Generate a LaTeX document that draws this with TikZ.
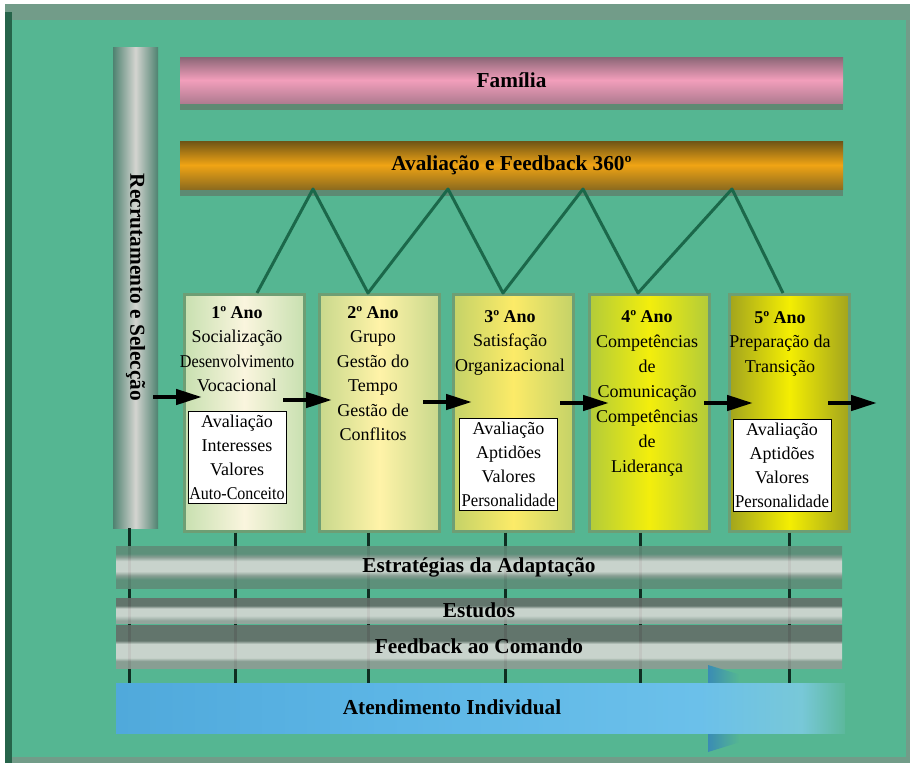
\documentclass[tikz,border=0pt]{standalone}
\usepackage{fontspec}
\setmainfont{Liberation Serif}
\usetikzlibrary{arrows.meta,shadows}

\definecolor{bggreen}{HTML}{55B692}
\definecolor{bgframe}{HTML}{729C89}
\definecolor{edgegreen}{HTML}{26644A}
\definecolor{linkgreen}{HTML}{1B684A}
\definecolor{tickdark}{HTML}{0F2E22}
\definecolor{shadowgray}{HTML}{5F7F6C}
\definecolor{boxrim}{HTML}{6E9E74}
\definecolor{famtop}{HTML}{8B6676}
\definecolor{fammid}{HTML}{F29EBB}
\definecolor{fambot}{HTML}{B07C91}
\definecolor{fbtop}{HTML}{6E5416}
\definecolor{fbmid}{HTML}{F0A414}
\definecolor{fbbot}{HTML}{8E6C1E}
\definecolor{recedge}{HTML}{4E8270}
\definecolor{recmid}{HTML}{D4D4D0}
\definecolor{stripdark}{HTML}{5E8C78}
\definecolor{stripgray}{HTML}{646E68}
\definecolor{stripmid}{HTML}{8E9C94}
\definecolor{striplight}{HTML}{D5D7D3}
\definecolor{stripbot}{HTML}{9AA49E}
\definecolor{yearAedge}{HTML}{C8E0B0}
\definecolor{yearAmid}{HTML}{FAF5DE}
\definecolor{yearBedge}{HTML}{C8D88C}
\definecolor{yearBmid}{HTML}{FFF3A8}
\definecolor{yearCedge}{HTML}{C4D268}
\definecolor{yearCmid}{HTML}{FCEB68}
\definecolor{yearDedge}{HTML}{B2CB3A}
\definecolor{yearDmid}{HTML}{F3EE0C}
\definecolor{yearEedge}{HTML}{A2A41E}
\definecolor{yearEmid}{HTML}{F4EE02}
\definecolor{atA}{HTML}{50A9DB}
\definecolor{atB}{HTML}{5DB6E6}
\definecolor{atC}{HTML}{6BC0EA}
\definecolor{atD}{HTML}{78C8D8}
\definecolor{atE}{HTML}{5CB89C}
\definecolor{atHead}{HTML}{3A8CB4}

\pgfdeclarehorizontalshading{atendbody}{100bp}{color(0bp)=(atA); color(25bp)=(atA); color(45bp)=(atB); color(65bp)=(atC); color(72bp)=(atD); color(75bp)=(atE); color(100bp)=(atE)}
\pgfdeclarehorizontalshading{atendhead}{100bp}{color(0bp)=(atHead); color(25bp)=(atHead); color(36bp)=(bggreen); color(100bp)=(bggreen)}
\pgfdeclareverticalshading{adaptshade}{100bp}{color(0bp)=(stripdark); color(35bp)=(stripdark); color(40bp)=(stripmid); color(45bp)=(striplight); color(57bp)=(striplight); color(62bp)=(stripmid); color(66bp)=(stripdark); color(100bp)=(stripdark)}
\pgfdeclareverticalshading{studyshade}{100bp}{color(0bp)=(stripbot); color(30bp)=(stripbot); color(40bp)=(striplight); color(54bp)=(striplight); color(60bp)=(stripgray); color(100bp)=(stripgray)}
\pgfdeclareverticalshading{cmdshade}{100bp}{color(0bp)=(stripmid); color(33bp)=(stripmid); color(37bp)=(striplight); color(53bp)=(striplight); color(57bp)=(stripgray); color(100bp)=(stripgray)}

\begin{document}
\begin{tikzpicture}[x=1pt,y=-1pt,
    title/.style={font=\bfseries\fontsize{21.3}{25}\selectfont, inner sep=0pt},
    band/.style={title, minimum width=663pt, minimum height=46pt,
      drop shadow={shadow xshift=0pt, shadow yshift=-7pt, fill=shadowgray, opacity=0.8}},
    strip/.style={title, minimum width=726pt, fill opacity=0.9, text opacity=1},
    year/.style 2 args={anchor=north west, minimum width=120pt, minimum height=237pt,
      inner sep=0pt, draw=boxrim, line width=2.5pt,
      left color=#1, right color=#1, middle color=#2},
    boxtext/.style={anchor=north, align=center, inner sep=0pt,
      font=\fontsize{18}{24.5}\selectfont},
    note/.style={draw=black, fill=white, line width=0.8pt, minimum width=98pt,
      minimum height=92pt, inner sep=1pt, align=center,
      font=\fontsize{18}{24}\selectfont},
    flow/.style={line width=4.5pt, -{Triangle[length=26pt,width=15pt]}},
    zig/.style={draw=linkgreen, line width=3pt, line join=round},
    tick/.style={draw=tickdark, line width=3pt}]

  % frame
  \fill[white] (0,0) rectangle (910,766);
  \fill[bgframe] (5,4) rectangle (910,763);
  \fill[bggreen] (12,20) rectangle (906,757);
  \fill[edgegreen] (5,12) rectangle (12,763);

  % top bands and side bar
  \node[band, top color=famtop, bottom color=fambot, middle color=fammid] (fam) at (511.5,80) {Família};
  \node[band, minimum height=48pt, top color=fbtop, bottom color=fbbot, middle color=fbmid] (fb) at (511.5,165) {Avaliação e Feedback 360º};
  \node[minimum width=45pt, minimum height=481pt, inner sep=0pt,
        left color=recedge, right color=recedge, middle color=recmid] (rec) at (135.5,287.5) {};
  \node[title, rotate=-90] (rectxt) at (rec.center) {Recrutamento e Selecção};

  % years
  \node[year={yearAedge}{yearAmid}] (y1) at (183,293) {};
  \node[year={yearBedge}{yearBmid}] (y2) at (318,293) {};
  \node[year={yearCedge}{yearCmid}] (y3) at (452,293) {};
  \node[year={yearDedge}{yearDmid}] (y4) at (588,293) {};
  \node[year={yearEedge}{yearEmid}] (y5) at (728,293) {};

  \node[boxtext] (y1txt) at (237,306) {\textbf{1º Ano}\\Socialização\\\scalebox{0.9}[1]{Desenvolvimento}\\Vocacional};
  \node[boxtext] (y2txt) at (373,306) {\textbf{2º Ano}\\Grupo\\Gestão do\\Tempo\\Gestão de\\Conflitos};
  \node[boxtext] (y3txt) at (510,310) {\textbf{3º Ano}\\Satisfação\\Organizacional};
  \node[boxtext, font=\fontsize{18}{25}\selectfont] (y4txt) at (647,310) {\textbf{4º Ano}\\Competências\\de\\Comunicação\\Competências\\de\\Liderança};
  \node[boxtext] (y5txt) at (780,311) {\textbf{5º Ano}\\Preparação da\\Transição};

  \node[note] (n1) at (237,457) {Avaliação\\Interesses\\Valores\\\scalebox{0.89}[1]{Auto-Conceito}};
  \node[note] (n3) at (508.5,464) {Avaliação\\Aptidões\\Valores\\\scalebox{0.93}[1]{Personalidade}};
  \node[note] (n5) at (782,465) {Avaliação\\Aptidões\\Valores\\\scalebox{0.93}[1]{Personalidade}};

  % links to the 360 band
  \path (313,189) coordinate (v1) (448,189) coordinate (v2)
        (583,189) coordinate (v3) (732,189) coordinate (v4)
        (257,293) coordinate (w1) (368,293) coordinate (w2)
        (503,293) coordinate (w3) (638,293) coordinate (w4)
        (783,293) coordinate (w5);
  \draw[zig] (w1) -- (v1) -- (w2) -- (v2) -- (w3) -- (v3) -- (w4) -- (v4) -- (w5);

  % ticks down to the individual support
  \path (129,688) coordinate (t0) (235,688) coordinate (t1)
        (368,688) coordinate (t2) (505,688) coordinate (t3)
        (640,688) coordinate (t4) (789,688) coordinate (t5);
  \begin{scope}[tick]
    \draw (t0 |- rec.south) -- (t0);
    \draw (t1 |- y1.south) -- (t1);
    \draw (t2 |- y2.south) -- (t2);
    \draw (t3 |- y3.south) -- (t3);
    \draw (t4 |- y4.south) -- (t4);
    \draw (t5 |- y5.south) -- (t5);
  \end{scope}

  % bottom strips
  \node[strip, minimum height=42pt, shading=adaptshade] (adapt) at (479,567) {Estratégias da Adaptação};
  \node[strip, minimum height=25pt, shading=studyshade] (estudos) at (479,610.5) {Estudos};
  \node[strip, minimum height=43pt, shading=cmdshade] (cmd) at (479,646.5) {Feedback ao Comando};

  % individual support arrow
  \shade[shading=atendhead] (708,665) -- (850,708) -- (708,752) -- cycle;
  \shade[shading=atendbody] (116,683) rectangle (845,733);
  \node[title] (atend) at (452,707) {Atendimento Individual};

  % flow through the years
  \path (153,397) coordinate (s0) (202,397) coordinate (e0)
        (283,400) coordinate (s1) (332,400) coordinate (e1)
        (423,402) coordinate (s2) (472,402) coordinate (e2)
        (560,403) coordinate (s3) (609,403) coordinate (e3)
        (704,403) coordinate (s4) (753,403) coordinate (e4)
        (828,403) coordinate (s5) (877,403) coordinate (e5);
  \begin{scope}[flow]
    \draw (s0) -- (e0);
    \draw (s1) -- (e1);
    \draw (s2) -- (e2);
    \draw (s3) -- (e3);
    \draw (s4) -- (e4);
    \draw (s5) -- (e5);
  \end{scope}
\end{tikzpicture}
\end{document}
